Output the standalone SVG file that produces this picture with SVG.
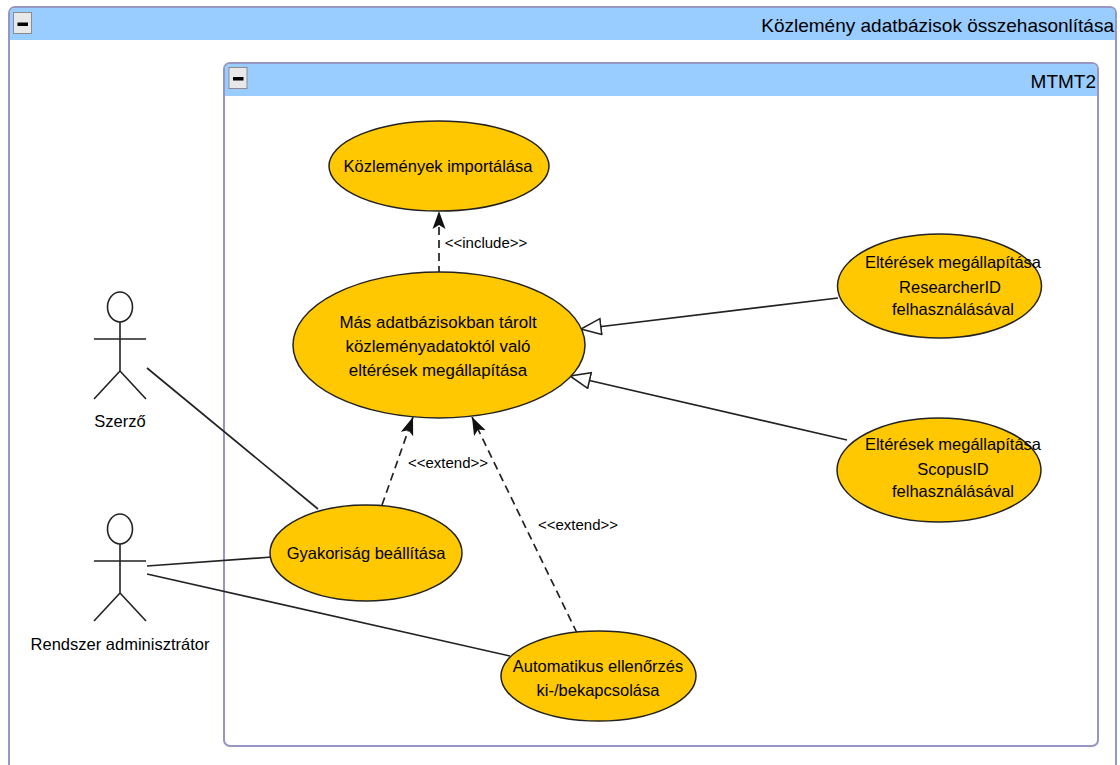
<svg xmlns="http://www.w3.org/2000/svg" width="1120" height="765" viewBox="0 0 1120 765">
<style>
text{font-family:"Liberation Sans",Arial,sans-serif;fill:#000}
.t{font-size:19px;text-anchor:end}
.n{font-size:16.500px;text-anchor:middle}
.l{font-size:15px;text-anchor:middle}
.frame{fill:#fff;stroke:#9696c4;stroke-width:2}
.hdr{fill:#99ccff}
.uc{fill:#ffc800;stroke:#222;stroke-width:1.5}
.c{fill:none;stroke:#222;stroke-width:1.7}
.d{stroke-dasharray:8 5}
.a{fill:none;stroke:#222;stroke-width:1.6}
.btn{fill:#e8e8e8;stroke:#8c8c8c;stroke-width:1}
</style>
<defs>
<marker id="open" markerUnits="userSpaceOnUse" markerWidth="24" markerHeight="22" refX="21" refY="9" orient="auto"><path d="M1 1L21 9L1 17Z" fill="#fff" stroke="#222" stroke-width="1.6"/></marker>
<marker id="arr" markerUnits="userSpaceOnUse" markerWidth="20" markerHeight="16" refX="18" refY="7" orient="auto"><path d="M0 0.500L18 7L0 13.500L4 7Z" fill="#111"/></marker>
</defs>
<g id="frame-outer">
<path class="frame" d="M9 765V13a6 6 0 0 1 6-6H1110a6 6 0 0 1 6 6V765"/>
<path class="hdr" d="M10 40V13a5 5 0 0 1 5-5H1110a5 5 0 0 1 5 5V40Z"/>
<rect class="btn" x="13.500" y="12.500" width="18" height="21"/>
<rect x="17.500" y="22.500" width="10.500" height="3.500" fill="#000"/>
<text class="t" x="1114" y="32">Közlemény adatbázisok összehasonlítása</text>
</g>
<g id="frame-inner">
<rect class="frame" x="224" y="63" width="874" height="683" rx="6"/>
<path class="hdr" d="M225 96V69a5 5 0 0 1 5-5H1092a5 5 0 0 1 5 5V96Z"/>
<rect class="btn" x="229" y="67.500" width="18" height="21"/>
<rect x="233" y="77" width="10.500" height="3.500" fill="#000"/>
<text class="t" x="1096" y="88">MTMT2</text>
</g>
<g id="connectors">
<path class="c d" d="M439 274L439 211" marker-end="url(#arr)"/>
<path class="c" d="M838 298L581 329" marker-end="url(#open)"/>
<path class="c" d="M847 440L570 376" marker-end="url(#open)"/>
<path class="c d" d="M382 505L413 417" marker-end="url(#arr)"/>
<path class="c d" d="M577 633L472 417" marker-end="url(#arr)"/>
<path class="c" d="M147 368L318 509"/>
<path class="c" d="M147 566L272 557"/>
<path class="c" d="M147 574L510 656"/>
</g>
<g id="labels">
<text class="l" x="486" y="248">&lt;&lt;include&gt;&gt;</text>
<text class="l" x="448" y="468">&lt;&lt;extend&gt;&gt;</text>
<text class="l" x="578" y="530">&lt;&lt;extend&gt;&gt;</text>
</g>
<g id="actor-szerzo">
<ellipse class="a" cx="120" cy="307" rx="12.500" ry="15"/>
<path class="a" d="M120 322V371M94 339H146M120 371L94 399M120 371L146 399"/>
<text class="n" x="120" y="427">Szerző</text>
</g>
<g id="actor-admin">
<ellipse class="a" cx="120" cy="529" rx="12.500" ry="15"/>
<path class="a" d="M120 544V593M94 561H146M120 593L94 621M120 593L146 621"/>
<text class="n" x="120" y="650">Rendszer adminisztrátor</text>
</g>
<g id="uc-import">
<ellipse class="uc" cx="439" cy="166" rx="110" ry="45"/>
<text class="n" x="438" y="172">Közlemények importálása</text>
</g>
<g id="uc-main">
<ellipse class="uc" cx="439" cy="345" rx="146" ry="73"/>
<text class="n" x="438" y="328" style="font-size:16.900px">Más adatbázisokban tárolt</text>
<text class="n" x="438" y="352" style="font-size:16.900px">közleményadatoktól való</text>
<text class="n" x="438" y="376" style="font-size:16.900px">eltérések megállapítása</text>
</g>
<g id="uc-researcher">
<ellipse class="uc" cx="939.500" cy="286" rx="102" ry="52"/>
<text class="n" x="953" y="268">Eltérések megállapítása</text>
<text class="n" x="950" y="293">ResearcherID</text>
<text class="n" x="953" y="315">felhasználásával</text>
</g>
<g id="uc-scopus">
<ellipse class="uc" cx="939" cy="470" rx="102" ry="52"/>
<text class="n" x="953" y="450">Eltérések megállapítása</text>
<text class="n" x="953" y="475">ScopusID</text>
<text class="n" x="953" y="497">felhasználásával</text>
</g>
<g id="uc-gyakorisag">
<ellipse class="uc" cx="366" cy="553" rx="96" ry="48"/>
<text class="n" x="366" y="559">Gyakoriság beállítása</text>
</g>
<g id="uc-auto">
<ellipse class="uc" cx="598.500" cy="676" rx="97.500" ry="45"/>
<text class="n" x="598" y="672">Automatikus ellenőrzés</text>
<text class="n" x="598" y="696">ki-/bekapcsolása</text>
</g>
</svg>
